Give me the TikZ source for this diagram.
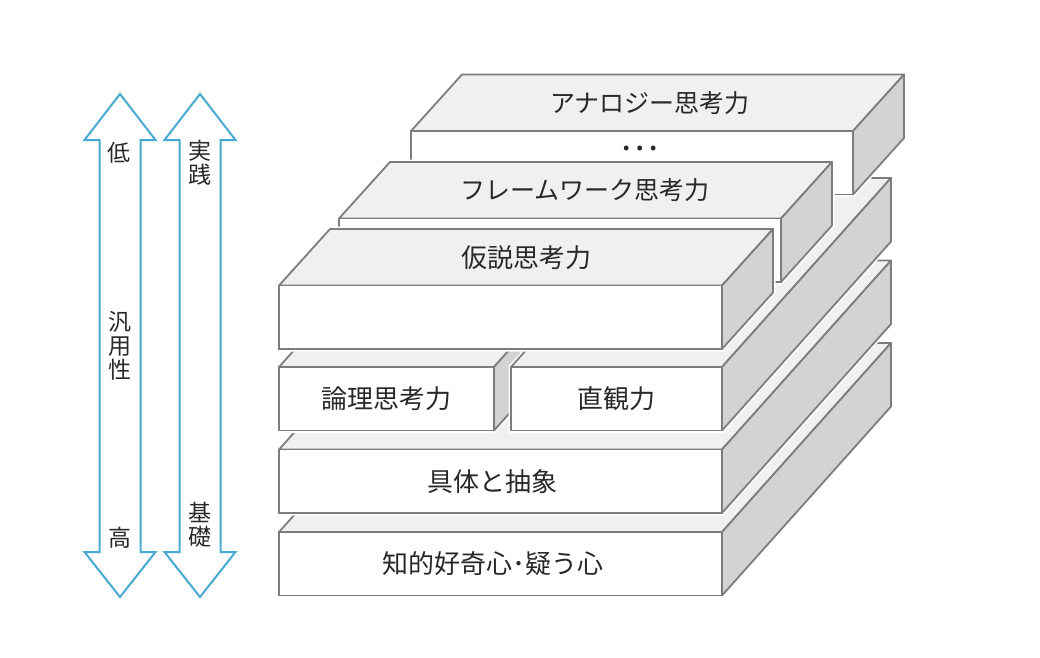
\documentclass[tikz,border=0pt]{standalone}
\usepackage{fontspec}
\newfontfamily\jp{Noto Sans CJK JP}
\usetikzlibrary{calc}
\definecolor{edgec}{RGB}{125,125,125}
\definecolor{topc}{RGB}{240,240,241}
\definecolor{sidec}{RGB}{211,211,211}
\definecolor{arrowc}{RGB}{72,170,208}
\definecolor{textc}{RGB}{40,40,40}
\newcommand\jpboxfont{\jp\fontsize{26}{30}\selectfont}
\newcommand\jpkanafont{\jp\fontsize{25}{30}\selectfont}
\newcommand\jpaxisfont{\jp\fontsize{23}{24}\selectfont}
\newcommand\jpdotsfont{\jp\fontsize{36}{40}\selectfont}
\tikzset{
  halo/.style={draw=white, line width=5pt, fill=white, line join=miter},
  topface/.style={fill=topc, draw=edgec, line width=1.8pt, line join=round},
  sideface/.style={fill=sidec, draw=edgec, line width=1.8pt, line join=round},
  frontface/.style={fill=white, draw=edgec, line width=1.8pt, inner sep=0pt, outer sep=0pt,
    minimum height=63.5pt},
  boxlabel/.style={font=\jpboxfont, text=textc, inner sep=0pt},
  kanalabel/.style={font=\jpkanafont, text=textc, inner sep=0pt},
  axisarrow/.style={draw=arrowc, line width=2pt, line join=miter, fill=white},
  axislabel/.style={font=\jpaxisfont, text=textc, inner sep=0pt, align=center},
}
% #1 name, #2 x, #3 y (front top edge), #4 width, #5 dx, #6 dy (depth)
\newcommand\slab[6]{%
  \coordinate (#1-tl) at (#2,#3);
  \coordinate (#1-tr) at (#2+#4,#3);
  \coordinate (#1-br) at (#2+#4,#3+63.5);
  \coordinate (#1-bl) at (#2,#3+63.5);
  \path[halo] (#1-bl) -- (#1-tl) -- ($(#1-tl)+(#5,#6)$) -- ($(#1-tr)+(#5,#6)$)
     -- ($(#1-br)+(#5,#6)$) -- (#1-br) -- cycle;
  \path[topface] (#1-tl) -- (#1-tr) -- ($(#1-tr)+(#5,#6)$) -- ($(#1-tl)+(#5,#6)$) -- cycle;
  \path[sideface] (#1-tr) -- ($(#1-tr)+(#5,#6)$) -- ($(#1-br)+(#5,#6)$) -- (#1-br) -- cycle;
  \node[frontface, minimum width=#4pt, anchor=north west] (#1) at (#1-tl) {};
}
\begin{document}
\begin{tikzpicture}[x=1pt, y=-1pt]
\useasboundingbox[fill=white] (0,0) rectangle (1040,657);

% axis arrows
\draw[axisarrow] (120,94) -- (155.5,140) -- (140.5,140) -- (140.5,552) -- (155.5,552)
  -- (120,597) -- (84.5,552) -- (99.5,552) -- (99.5,140) -- (84.5,140) -- cycle;
\draw[axisarrow] (200,94) -- (235.5,140) -- (220.5,140) -- (220.5,552) -- (235.5,552)
  -- (200,597) -- (164.5,552) -- (179.5,552) -- (179.5,140) -- (164.5,140) -- cycle;
\node[axislabel] (low) at (119,153) {低};
\node[axislabel] (gen) at (120,346) {汎\\用\\性};
\node[axislabel] (high) at (120,538) {高};
\node[axislabel] (prac) at (200,163) {実\\践};
\node[axislabel] (base) at (200,525) {基\\礎};

% deep layers
\slab{kiso}{279}{532}{443}{169}{-189}
\node[boxlabel] (kisoT) at ($(kiso.center)+(-8,0)$) {知的好奇心･疑う心};
\slab{gutai}{279}{449.5}{443}{169}{-189}
\node[boxlabel] (gutaiT) at ($(gutai.center)+(-8,0)$) {具体と抽象};
\slab{ronri}{279}{367}{215}{169}{-189}
\node[boxlabel] (ronriT) at (ronri.center) {論理思考力};
\slab{chokkan}{511}{367}{211}{169}{-189}
\node[boxlabel] (chokkanT) at (chokkan.center) {直観力};

% thin slabs on top
\slab{ana}{411}{131}{442}{51}{-56.5}
\node[kanalabel] (anaT) at ($(ana-tl)+(239,-28)$) {アナロジー思考力};
\node[font=\jpdotsfont, text=textc, inner sep=0pt] (dots) at (640,148) {…};
\slab{frame}{339}{218.5}{442}{51}{-56.5}
\node[kanalabel] (frameT) at ($(frame-tl)+(246,-28)$) {フレームワーク思考力};
\slab{kasetsu}{279}{285.5}{443}{51}{-56.5}
\node[boxlabel] (kasetsuT) at ($(kasetsu-tl)+(247,-28)$) {仮説思考力};
\end{tikzpicture}
\end{document}
